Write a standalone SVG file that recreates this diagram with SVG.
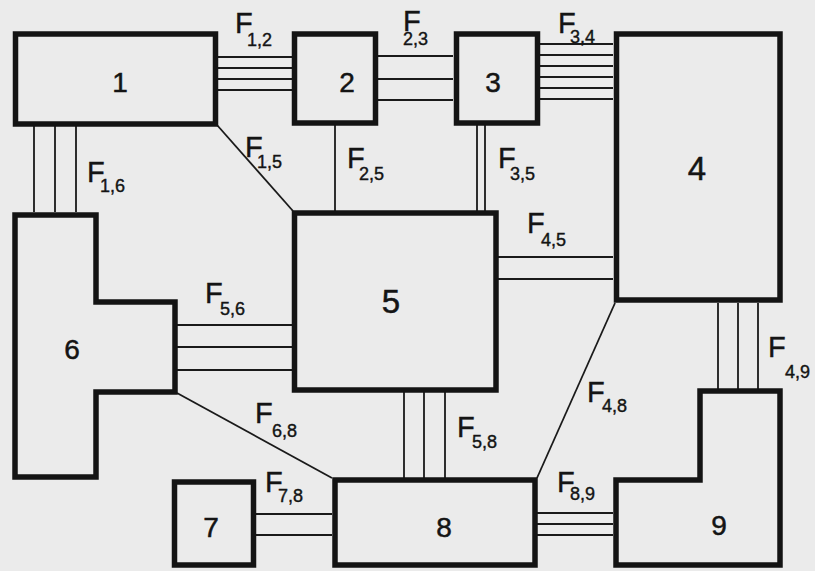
<svg xmlns="http://www.w3.org/2000/svg" width="815" height="571" viewBox="0 0 815 571">
<style>
.bx{fill:none;stroke:#141414;stroke-width:5.5;stroke-linejoin:miter}
.cn{stroke:#1a1a1a;stroke-width:1.8;fill:none}
.nl{font-family:"Liberation Sans",Arial,sans-serif;font-size:28px;fill:#141414;stroke:#141414;stroke-width:0.5;text-anchor:middle}
.f{font-family:"Liberation Sans",Arial,sans-serif;font-size:29px;fill:#141414;stroke:#141414;stroke-width:0.4}
.s{font-size:18px}
</style>
<rect width="815" height="571" fill="#ebebeb"/>
<g id="connectors">
<g id="c12"><path class="cn" d="M218,57H292M218,68H292M218,79H292M218,90H292"/></g>
<g id="c23"><path class="cn" d="M378,56H453M378,79H453M378,100H453"/></g>
<g id="c34"><path class="cn" d="M540,44H613M540,55H613M540,66H613M540,77H613M540,88H613M540,99H613"/></g>
<g id="c16"><path class="cn" d="M34,126V212M55,126V212M76,126V212"/></g>
<g id="c15"><path class="cn" d="M217,125L293,211"/></g>
<g id="c25"><path class="cn" d="M335,125V211"/></g>
<g id="c35"><path class="cn" d="M477,125V211M485,125V211"/></g>
<g id="c45"><path class="cn" d="M498,257H613M498,279H613"/></g>
<g id="c48"><path class="cn" d="M615,303L537,478"/></g>
<g id="c49"><path class="cn" d="M718,303V389M738,303V389M758,303V389"/></g>
<g id="c56"><path class="cn" d="M177,325H292M177,347H292M177,370H292"/></g>
<g id="c68"><path class="cn" d="M177,393L332,478"/></g>
<g id="c58"><path class="cn" d="M404,392V478M424,392V478M445,392V478"/></g>
<g id="c78"><path class="cn" d="M256,514H332M256,535H332"/></g>
<g id="c89"><path class="cn" d="M537,513H613M537,524H613M537,535H613"/></g>
</g>
<g id="labels">
<text class="f" x="235" y="33">F<tspan class="s" x="247" y="46">1,2</tspan></text>
<text class="f" x="403" y="31">F<tspan class="s" x="403" y="45">2,3</tspan></text>
<text class="f" x="558" y="33">F<tspan class="s" x="570" y="43">3,4</tspan></text>
<text class="f" x="245" y="157">F<tspan class="s" x="257" y="168">1,5</tspan></text>
<text class="f" x="87" y="182">F<tspan class="s" x="100" y="192">1,6</tspan></text>
<text class="f" x="347" y="168">F<tspan class="s" x="359" y="180">2,5</tspan></text>
<text class="f" x="498" y="168">F<tspan class="s" x="510" y="180">3,5</tspan></text>
<text class="f" x="527" y="233">F<tspan class="s" x="541" y="246">4,5</tspan></text>
<text class="f" x="768" y="357">F<tspan class="s" x="785" y="378">4,9</tspan></text>
<text class="f" x="587" y="402">F<tspan class="s" x="602" y="412">4,8</tspan></text>
<text class="f" x="205" y="303">F<tspan class="s" x="220" y="315">5,6</tspan></text>
<text class="f" x="255" y="423">F<tspan class="s" x="272" y="437">6,8</tspan></text>
<text class="f" x="457" y="437">F<tspan class="s" x="472" y="448">5,8</tspan></text>
<text class="f" x="265" y="492">F<tspan class="s" x="278" y="502">7,8</tspan></text>
<text class="f" x="557" y="492">F<tspan class="s" x="570" y="500">8,9</tspan></text>
</g>
<g id="n1"><rect class="bx" x="15.5" y="34" width="200" height="90"/><text class="nl" x="120" y="92">1</text></g>
<g id="n2"><rect class="bx" x="294.5" y="34" width="81" height="89"/><text class="nl" x="347" y="92">2</text></g>
<g id="n3"><rect class="bx" x="456.5" y="34" width="81" height="89"/><text class="nl" x="493" y="92">3</text></g>
<g id="n4"><rect class="bx" x="616.5" y="34" width="163.5" height="266"/><text class="nl" x="697" y="180" style="font-size:33px">4</text></g>
<g id="n5"><rect class="bx" x="294.5" y="213" width="201.5" height="177"/><text class="nl" x="391" y="313" style="font-size:33px">5</text></g>
<g id="n6"><path class="bx" d="M15,215H96V302H175V392H96V477H15Z"/><text class="nl" x="72" y="359">6</text></g>
<g id="n7"><rect class="bx" x="174.5" y="482" width="79" height="83"/><text class="nl" x="211" y="537">7</text></g>
<g id="n8"><rect class="bx" x="335" y="480" width="200" height="85"/><text class="nl" x="444" y="537">8</text></g>
<g id="n9"><path class="bx" d="M700,391H780V565H616V480H700Z"/><text class="nl" x="719" y="535">9</text></g>
</svg>
